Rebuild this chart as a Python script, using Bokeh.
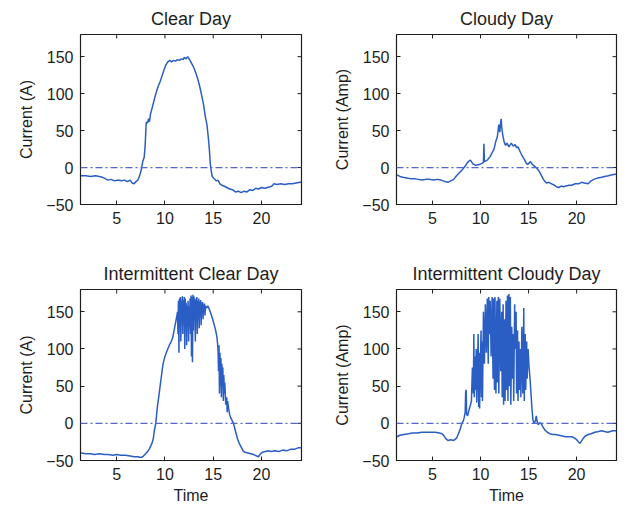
import math
from bokeh.plotting import figure
from bokeh.layouts import column, row
from bokeh.models import Range1d, FixedTicker, Span
from bokeh.embed import file_html
from bokeh.resources import INLINE

# ---------------- data ----------------
x_ticks = [5, 10, 15, 20]
y_ticks = [-50, 0, 50, 100, 150]
x_lim = [1.25, 24.15]
y_lim = [-50, 180]

titles = ["Clear Day", "Cloudy Day", "Intermittent Clear Day", "Intermittent Cloudy Day"]
y_labels = ["Current (A)", "Current (Amp)", "Current (A)", "Current (Amp)"]
x_label = "Time"

t_clear = [1.3, 1.8, 2.3, 2.8, 3.2, 3.5, 3.8, 4.1, 4.4, 4.8,
           5.1, 5.5, 5.8, 6.1, 6.4, 6.6, 6.8, 7.0, 7.2, 7.4,
           7.55, 7.7, 7.85, 7.95, 8.05, 8.1, 8.2, 8.3, 8.4, 8.5,
           8.7, 8.9, 9.1, 9.3, 9.5, 9.7, 9.9, 10.1, 10.3, 10.5,
           10.7, 10.9, 11.1, 11.3, 11.5, 11.7, 11.9, 12.0, 12.2, 12.35,
           12.5, 12.6, 12.8, 13.0, 13.2, 13.4, 13.6, 13.8, 14.0, 14.2,
           14.35, 14.5, 14.6, 14.7, 14.8, 14.9, 15.1, 15.3, 15.5, 15.7,
           15.9, 16.1, 16.4, 16.7, 17.0, 17.3, 17.6, 17.9, 18.2, 18.5,
           18.8, 19.1, 19.4, 19.7, 20.0, 20.3, 20.6, 20.9, 21.1, 21.3,
           21.6, 22.0, 22.4, 22.8, 23.2, 23.6, 24.0, 24.15]
i_clear = [-11, -11, -12, -11, -12, -13, -15, -17, -16, -18,
           -17, -18, -17, -19, -17, -21, -22, -19, -17, -10,
           -3, 8, 14, 30, 58, 62, 60, 66, 62, 72,
           82, 92, 102, 110, 116, 124, 132, 139, 143, 145,
           143, 145, 144, 146, 145, 147, 146, 149, 147, 150,
           147, 145, 140, 135, 128, 120, 110, 98, 85, 68,
           58, 40, 25, 5, -5, -12, -15, -18, -17, -22,
           -24, -25, -27, -29, -30, -33, -32, -34, -32, -33,
           -30, -31, -28, -29, -27, -28, -27, -26, -25, -22,
           -23, -22, -23, -22, -22, -21, -20, -20]

t_cloudy = [1.3, 1.6, 1.9, 2.3, 2.7, 3.1, 3.5, 3.9, 4.3, 4.7,
            5.1, 5.5, 5.9, 6.3, 6.6, 6.9, 7.2, 7.5, 7.8, 8.1,
            8.4, 8.6, 8.8, 8.95, 9.2, 9.5, 9.85, 10.2, 10.3, 10.35,
            10.4, 10.7, 11.0, 11.2, 11.4, 11.6, 11.75, 11.9, 12.0, 12.1,
            12.15, 12.2, 12.3, 12.45, 12.6, 12.75, 12.95, 13.1, 13.2, 13.4,
            13.6, 13.75, 13.9, 14.1, 14.25, 14.45, 14.6, 14.75, 14.9, 15.05,
            15.2, 15.35, 15.5, 15.8, 16.1, 16.3, 16.5, 16.7, 16.85, 17.1,
            17.4, 17.7, 17.9, 18.15, 18.4, 18.65, 18.9, 19.2, 19.5, 19.85,
            20.2, 20.5, 20.8, 21.2, 21.5, 21.8, 22.2, 22.6, 22.9, 23.3,
            23.6, 24.0, 24.15]
i_cloudy = [-10, -12, -13, -14, -15, -15, -16, -17, -16, -16,
            -17, -16, -17, -19, -20, -18, -16, -11, -7, -3,
            2, 6, 9, 10, 5, 3, 4, 6, 7, 32,
            8, 10, 15, 20, 25, 36, 42, 58, 48, 62,
            66, 55, 45, 35, 30, 33, 28, 31, 33, 29,
            31, 27, 28, 22, 18, 13, 10, 6, 4, 6,
            8, 5, 3, 0, -5, -10, -15, -19, -21, -20,
            -22, -24, -26, -27, -25, -26, -25, -24, -24, -22,
            -22, -20, -21, -22, -18, -16, -14, -13, -12, -11,
            -10, -9, -9]

t_int_clear = [1.3, 1.8, 2.3, 2.7, 3.2, 3.7, 4.1, 4.6, 5.0, 5.4,
               5.9, 6.4, 6.8, 7.2, 7.5, 7.7, 7.85, 8.0, 8.2, 8.4,
               8.55, 8.7, 8.8, 8.9, 9.05, 9.2, 9.4, 9.6, 9.8, 10.0,
               10.2, 10.45, 10.65, 10.8, 10.95, 11.1, 11.2, 11.3, 11.35, 11.4,
               11.45, 11.5, 11.55, 11.6, 11.65, 11.7, 11.75, 11.8, 11.85, 11.9,
               11.95, 12.0, 12.05, 12.1, 12.15, 12.2, 12.25, 12.3, 12.35, 12.4,
               12.45, 12.5, 12.55, 12.6, 12.65, 12.7, 12.75, 12.8, 12.85, 12.9,
               12.95, 13.0, 13.05, 13.1, 13.15, 13.2, 13.25, 13.3, 13.35, 13.4,
               13.45, 13.5, 13.55, 13.6, 13.65, 13.7, 13.75, 13.8, 13.85, 13.9,
               13.95, 14.0, 14.05, 14.1, 14.15, 14.2, 14.3, 14.45, 14.6, 14.75,
               14.9, 15.05, 15.2, 15.3, 15.4, 15.5, 15.55, 15.6, 15.65, 15.7,
               15.75, 15.8, 15.85, 15.9, 15.95, 16.0, 16.05, 16.1, 16.15, 16.2,
               16.3, 16.4, 16.45, 16.5, 16.6, 16.7, 16.8, 16.95, 17.1, 17.3,
               17.5, 17.7, 17.9, 18.1, 18.3, 18.6, 18.9, 19.2, 19.5, 19.7,
               19.9, 20.1, 20.4, 20.7, 21.0, 21.4, 21.8, 22.2, 22.6, 23.0,
               23.4, 23.8, 24.15]
i_int_clear = [-40, -41, -41, -42, -41, -42, -42, -43, -42, -43,
               -43, -44, -45, -45, -46, -45, -43, -41, -38, -34,
               -30, -25, -20, -10, 0, 20, 40, 60, 80, 90,
               97, 105, 110, 115, 125, 135, 142, 150, 120, 165,
               95, 168, 130, 170, 110, 165, 140, 171, 120, 166,
               150, 170, 100, 168, 135, 162, 105, 158, 140, 165,
               110, 156, 130, 168, 120, 172, 90, 170, 82, 173,
               125, 171, 140, 168, 110, 166, 150, 170, 120, 165,
               145, 168, 128, 164, 150, 166, 132, 162, 148, 163,
               140, 160, 150, 161, 145, 158, 155, 158, 153, 148,
               142, 135, 128, 122, 115, 100, 70, 105, 40, 95,
               50, 88, 35, 80, 55, 75, 30, 65, 40, 55,
               25, 35, 15, 30, 20, 12, 8, 4, 0, -10,
               -20, -27, -32, -37, -39, -40, -41, -42, -44, -45,
               -41, -39, -38, -37, -38, -37, -38, -36, -37, -35,
               -35, -33, -33]

t_int_cloudy = [1.3, 1.6, 2.0, 2.5, 2.9, 3.4, 3.9, 4.4, 4.9, 5.3,
                5.7, 6.0, 6.2, 6.4, 6.6, 6.9, 7.2, 7.5, 7.7, 7.9,
                8.05, 8.2, 8.3, 8.4, 8.45, 8.5, 8.55, 8.65, 8.8, 8.95,
                9.05, 9.15, 9.25, 9.3, 9.35, 9.4, 9.45, 9.55, 9.6, 9.65,
                9.75, 9.8, 9.85, 9.9, 9.95, 10.05, 10.1, 10.15, 10.2, 10.3,
                10.4, 10.5, 10.6, 10.7, 10.8, 10.85, 10.95, 11.0, 11.1, 11.2,
                11.3, 11.35, 11.45, 11.5, 11.6, 11.7, 11.75, 11.85, 11.9, 12.0,
                12.1, 12.2, 12.25, 12.35, 12.4, 12.5, 12.55, 12.65, 12.7, 12.8,
                12.85, 12.95, 13.0, 13.1, 13.15, 13.25, 13.3, 13.4, 13.45, 13.55,
                13.6, 13.7, 13.75, 13.85, 13.9, 14.0, 14.05, 14.15, 14.2, 14.3,
                14.4, 14.5, 14.55, 14.65, 14.7, 14.8, 14.85, 14.95, 15.05, 15.15,
                15.25, 15.35, 15.45, 15.55, 15.7, 15.8, 15.9, 16.0, 16.15, 16.3,
                16.5, 16.7, 16.95, 17.2, 17.5, 17.8, 18.15, 18.5, 18.85, 19.2,
                19.5, 19.8, 20.0, 20.2, 20.35, 20.5, 20.7, 20.9, 21.2, 21.5,
                21.9, 22.3, 22.6, 22.9, 23.25, 23.5, 23.75, 24.15]
i_int_cloudy = [-18, -16, -15, -14, -13, -13, -12, -12, -12, -12,
                -13, -14, -17, -21, -23, -22, -23, -20, -14, -7,
                0, 3, 8, 15, 42, 45, 12, 10, 18, 25,
                30, 75, 40, 120, 35, 90, 45, 100, 28, 60,
                120, 22, 95, 20, 60, 125, 35, 110, 30, 150,
                80, 160, 95, 168, 80, 170, 120, 165, 90, 170,
                60, 168, 45, 170, 40, 165, 55, 170, 40, 168,
                70, 150, 35, 160, 25, 140, 30, 165, 45, 172,
                30, 174, 50, 170, 25, 130, 60, 120, 30, 160,
                100, 150, 40, 125, 30, 110, 45, 100, 35, 130,
                40, 155, 30, 120, 45, 110, 60, 100, 75, 60,
                40, 20, 5, 0, 3, 10, 2, -2, 1, 0,
                -5, -9, -12, -14, -15, -15, -16, -17, -18, -18,
                -18, -20, -22, -25, -27, -24, -20, -17, -15, -14,
                -12, -11, -10, -11, -12, -11, -10, -10]

# ---------------- style ----------------
FONT = "Liberation Sans"
INK = "#1e1e1e"
LINE = "#2a5ec4"
ZERO = "#5566cc"


def panel(t, cur, title, ylabel, show_xlabel, b_left, b_right, b_top, b_bottom, fw, fh):
    p = figure(frame_width=fw, frame_height=fh,
               x_range=Range1d(x_lim[0], x_lim[1]), y_range=Range1d(y_lim[0], y_lim[1]),
               output_backend="svg", toolbar_location=None,
               min_border_left=b_left, min_border_right=b_right,
               min_border_top=b_top, min_border_bottom=b_bottom,
               title=title)
    p.title.text_font = FONT
    p.title.text_font_size = "18px"
    p.title.text_font_style = "normal"
    p.title.text_color = INK
    p.title.align = "center"
    p.title.standoff = 11

    p.background_fill_color = "white"
    p.border_fill_color = "white"
    p.outline_line_color = INK
    p.outline_line_width = 1.2
    p.xgrid.visible = False
    p.ygrid.visible = False

    for ax, ticks in ((p.xaxis[0], x_ticks), (p.yaxis[0], y_ticks)):
        ax.ticker = FixedTicker(ticks=ticks)
        ax.axis_line_color = INK
        ax.major_tick_line_color = INK
        ax.major_tick_in = 4
        ax.major_tick_out = 0
        ax.minor_tick_line_color = None
        ax.major_label_text_font = FONT
        ax.major_label_text_font_size = "16px"
        ax.major_label_text_color = INK
        ax.axis_label_text_font = FONT
        ax.axis_label_text_font_size = "16px"
        ax.axis_label_text_font_style = "normal"
        ax.axis_label_text_color = INK
        ax.major_label_standoff = 7

    p.yaxis[0].axis_label = ylabel
    p.yaxis[0].axis_label_standoff = 8
    if show_xlabel:
        p.xaxis[0].axis_label = x_label
        p.xaxis[0].axis_label_standoff = 4

    # inward ticks on the top and right edges of the box (MATLAB style)
    p.ray(x=x_ticks, y=[y_lim[1]] * len(x_ticks), length=4, length_units="screen",
          angle=-math.pi / 2, line_color=INK, line_width=1)
    p.ray(x=[x_lim[1]] * len(y_ticks), y=y_ticks, length=4, length_units="screen",
          angle=math.pi, line_color=INK, line_width=1)

    p.add_layout(Span(location=0, dimension="width", line_color=ZERO,
                      line_width=1.3, line_dash="7 3 2 3"))
    p.line(t, cur, line_color=LINE, line_width=1.5)
    return p


p1 = panel(t_clear, i_clear, titles[0], y_labels[0], False, 80, 12, 34, 50, 221, 170)
p2 = panel(t_cloudy, i_cloudy, titles[1], y_labels[1], False, 83, 10, 34, 50, 220, 170)
p3 = panel(t_int_clear, i_int_clear, titles[2], y_labels[2], True, 80, 12, 35, 48, 221, 171)
p4 = panel(t_int_cloudy, i_int_cloudy, titles[3], y_labels[3], True, 83, 10, 35, 48, 220, 171)

layout = column(row(p1, p2), row(p3, p4))

with open("out.html", "w") as f:
    f.write(file_html(layout, INLINE))
